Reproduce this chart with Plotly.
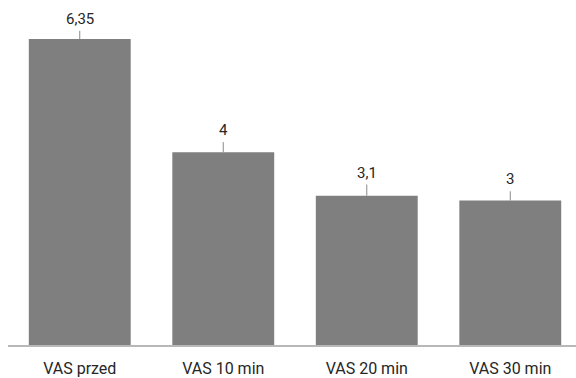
import plotly.graph_objects as go

categories = ["VAS przed", "VAS 10 min", "VAS 20 min", "VAS 30 min"]
values = [6.35, 4, 3.1, 3]
value_labels = ["6,35", "4", "3,1", "3"]
err_up = [0.17, 0.21, 0.23, 0.19]

bar_color = "#7f7f80"
text_color = "#262626"
font_family = "Roboto, 'Open Sans', sans-serif"

fig = go.Figure()
fig.add_trace(go.Bar(
    x=categories,
    y=values,
    marker=dict(color=bar_color, line=dict(width=0)),
    width=0.71,
    error_y=dict(type="data", symmetric=False, array=err_up, arrayminus=[0] * len(values),
                 color="#8a8a8a", thickness=1, width=0),
    hoverinfo="skip",
))

# value labels sitting just above each whisker
for cat, v, e, lab in zip(categories, values, err_up, value_labels):
    fig.add_annotation(
        x=cat, y=v + e, text=lab, showarrow=False,
        xanchor="center", yanchor="bottom", yshift=1,
        font=dict(family=font_family, size=15, color=text_color),
    )

fig.update_layout(
    width=576, height=378,
    margin=dict(l=8, r=0, t=0, b=33),
    paper_bgcolor="white", plot_bgcolor="white",
    showlegend=False,
    bargap=0.29,
    font=dict(family=font_family, size=16, color=text_color),
    xaxis=dict(
        range=[-0.5, 3.458],
        showgrid=False, zeroline=False,
        showline=True, linecolor="#b8b8b8", linewidth=2,
        ticks="", ticklabelstandoff=8,
        tickfont=dict(family=font_family, size=16, color=text_color),
    ),
    yaxis=dict(range=[0, 7.16], visible=False),
)

fig.write_html("out.html")
